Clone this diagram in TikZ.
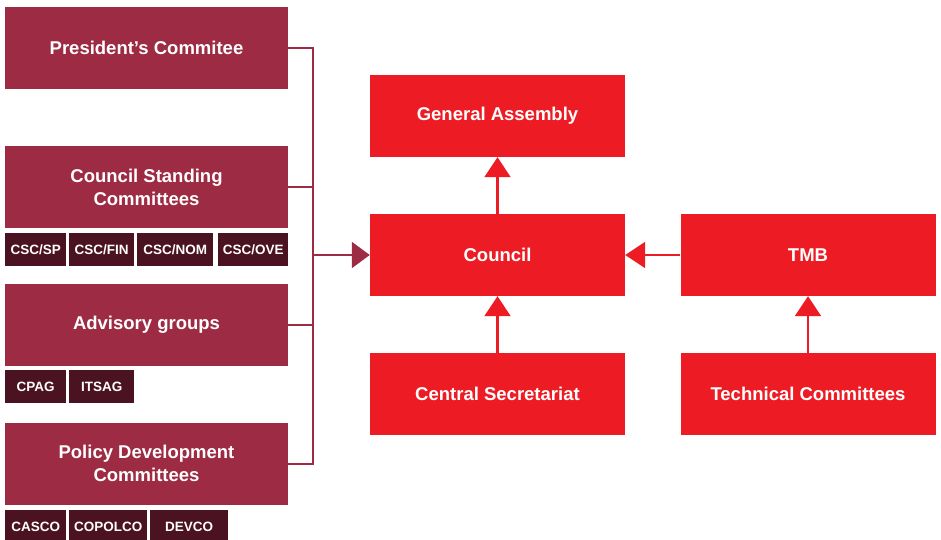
\documentclass[tikz,border=0pt]{standalone}
\usepackage{fontspec}
\setmainfont{Liberation Sans}
\usetikzlibrary{arrows.meta}

\definecolor{maroon}{HTML}{9C2B43}
\definecolor{darkmaroon}{HTML}{4B1221}
\definecolor{isored}{HTML}{ED1C24}

\begin{document}
\begin{tikzpicture}[x=1pt,y=-1pt,
    groupbox/.style={fill=maroon,minimum width=283pt,minimum height=82pt,inner sep=0pt,
      text=white,align=center,font=\fontsize{18.5}{23}\selectfont\bfseries},
    subbox/.style={fill=darkmaroon,anchor=north west,minimum height=33pt,inner sep=0pt,
      text=white,font=\fontsize{13.5}{15}\selectfont\bfseries},
    mainbox/.style={fill=isored,minimum width=255pt,minimum height=82pt,inner sep=0pt,
      text=white,align=center,font=\fontsize{18.5}{23}\selectfont\bfseries},
    link/.style={draw=maroon,line width=2pt},
    redlink/.style={draw=isored,line width=2.2pt,-{Triangle[length=20pt,width=26pt]}}]
    \useasboundingbox (0,0) rectangle (941,540);

    % committees on the left
    \node[groupbox] (pres) at (146.5,48) {President's Commitee};
    \node[groupbox] (csc) at (146.5,187) {Council Standing\\Committees};
    \node[groupbox] (adv) at (146.5,325) {Advisory groups};
    \node[groupbox] (pdc) at (146.5,463.5) {Policy Development\\Committees};

    \node[subbox,minimum width=61pt] (cscsp) at (5,233) {CSC/SP};
    \node[subbox,minimum width=65pt] (cscfin) at (69,233) {CSC/FIN};
    \node[subbox,minimum width=76pt] (cscnom) at (137,233) {CSC/NOM};
    \node[subbox,minimum width=70pt] (cscove) at (218,233) {CSC/OVE};

    \node[subbox,minimum width=61pt] (cpag) at (5,370) {CPAG};
    \node[subbox,minimum width=65pt] (itsag) at (69,370) {ITSAG};

    \node[subbox,minimum width=61pt] (casco) at (5,510) {CASCO};
    \node[subbox,minimum width=78pt] (copolco) at (69,510) {COPOLCO};
    \node[subbox,minimum width=78pt] (devco) at (150,510) {DEVCO};

    % governance on the right
    \node[mainbox] (ga) at (497.5,116) {General Assembly};
    \node[mainbox] (council) at (497.5,255) {Council};
    \node[mainbox] (cs) at (497.5,394) {Central Secretariat};
    \node[mainbox] (tmb) at (808,255) {TMB};
    \node[mainbox] (tc) at (808,394) {Technical Committees};

    % bus joining the committees
    \coordinate (bustop) at (313,48);
    \coordinate (busbot) at (313,463.5);
    \draw[link] (pres.east) -- (bustop) -- (busbot) -- (pdc.east);
    \draw[link] (csc.east) -- (csc.east -| bustop);
    \draw[link] (adv.east) -- (adv.east -| bustop);
    \draw[link,-{Triangle[length=18pt,width=26pt]}] (council.west -| bustop) -- (council.west);

    \draw[redlink] (council.north) -- (ga.south);
    \draw[redlink] (cs.north) -- (council.south);
    \draw[redlink] (tmb.west) -- (council.east);
    \draw[redlink] (tc.north) -- (tmb.south);
\end{tikzpicture}
\end{document}
